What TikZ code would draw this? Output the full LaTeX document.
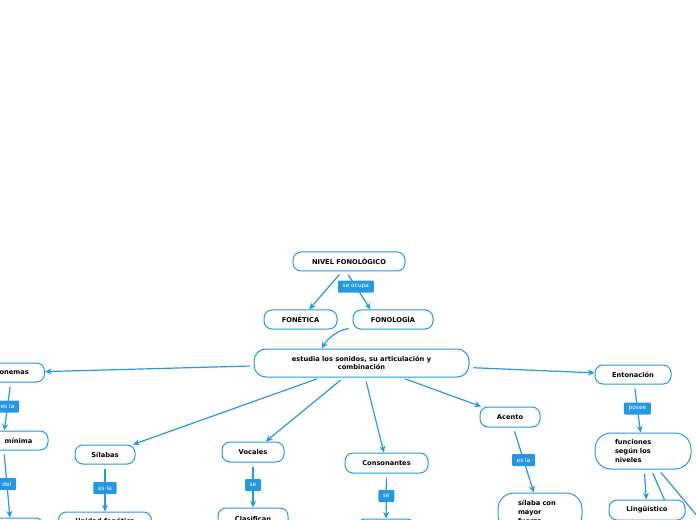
\documentclass[tikz,border=0pt]{standalone}
\usepackage{fontspec}
\setmainfont{DejaVu Sans}
\usetikzlibrary{arrows.meta,backgrounds}
\definecolor{mapblue}{RGB}{38,152,224}
\tikzset{
  concept/.style={draw=mapblue, line width=0.75pt, fill=white, rounded corners=6pt,
    inner sep=0pt, minimum height=14.25pt, align=center,
    font=\fontsize{5}{6.5}\selectfont\bfseries},
  bigconcept/.style={concept, rounded corners=12pt, align=left,
    font=\fontsize{5}{6.75}\selectfont\bfseries},
  linklabel/.style={fill=mapblue, text=white, inner xsep=3.5pt, inner ysep=0pt,
    minimum height=9pt, rounded corners=0.75pt, font=\fontsize{4.4}{5}\selectfont},
  link/.style={draw=mapblue, line width=0.9pt, shorten <=3pt,
    -{Stealth[length=5pt,width=4.5pt]}},
}
\begin{document}
\begin{tikzpicture}[x=0.75pt,y=0.75pt,yscale=-1,xscale=1]
\useasboundingbox (0,0) rectangle (696,520);
\clip (0,0) rectangle (696,520);

% Text Node
\node[concept, minimum width=84pt] (nivel) at (349,261.5) {NIVEL FONOLÓGICO};
\node[concept, minimum width=54.75pt] (fonetica) at (300.5,319.5) {FONÉTICA};
\node[concept, minimum width=60pt] (fonologia) at (393,319.5) {FONOLOGÍA};
\node[concept, minimum width=161.25pt, minimum height=21pt, rounded corners=9pt] (estudia) at (361.5,363) {estudia los sonidos, su articulación y\\combinación};

% Text Node
\node[concept, minimum width=48.75pt] (fonemas) at (12,372.5) {Fonemas};
\node[concept, minimum width=67.5pt] (minima) at (3,440.5) {Unidad\ \ mínima};
\node[concept, minimum width=48pt, minimum height=25.5pt] (minimabase) at (11.5,535) {};

% Text Node
\node[concept, minimum width=45pt] (silabas) at (105,454.5) {Sílabas};
\node[concept, minimum width=69.75pt, minimum height=13.5pt] (unidad) at (105,521) {Unidad fonética};
\node[concept, minimum width=46.5pt, minimum height=15pt] (vocales) at (253,452) {Vocales};
\node[concept, minimum width=52.5pt, minimum height=16.5pt] (clasifican) at (253,519) {Clasifican};
\node[concept, minimum width=62.25pt, minimum height=15pt] (consonantes) at (386.5,463) {Consonantes};
\node[concept, minimum width=43.5pt, minimum height=16.5pt] (consonantesbase) at (386,530) {};

% Text Node
\node[concept, minimum width=45pt, minimum height=15pt] (acento) at (510,417) {Acento};
\node[bigconcept, minimum width=63pt, minimum height=28.5pt, text width=33pt] (silabafuerte) at (540,512) {sílaba con\\mayor\\fuerza};
\node[concept, minimum width=57pt] (entonacion) at (633,374.5) {Entonación};
\node[bigconcept, minimum width=72pt, minimum height=27pt, text width=42pt] (funciones) at (643,451) {funciones\\según los\\niveles};
\node[concept, minimum width=57pt, minimum height=15pt] (linguistico) at (647,510) {Lingüístico};
\coordinate (nivelA) at (691,560);
\coordinate (nivelB) at (734,560);

%Straight Lines
\draw[link] (nivel.235) -- (fonetica);
\draw[link] (nivel.254) -- node[linklabel, pos=0.4] {se ocupa} (fonologia.156);
\draw[link] (fonologia.192) .. controls (338,330) and (328,338) .. (estudia.160);
\draw[link] (estudia) -- (fonemas);
\draw[link] (estudia) -- (silabas);
\draw[link] (estudia) -- (vocales);
\draw[link] (estudia) -- (consonantes);
\draw[link] (estudia) -- (acento);
\draw[link] (estudia) -- (entonacion);

%Straight Lines
\draw[link] (fonemas) -- node[linklabel] {es la} (minima);
\draw[link] (minima) -- node[linklabel] {del} (minimabase);
\draw[link] (silabas) -- node[linklabel] {es la} (unidad);
\draw[link] (vocales) -- node[linklabel] {se} (clasifican);
\draw[link] (consonantes) -- node[linklabel] {se} (consonantesbase);
\draw[link] (acento) -- node[linklabel] {es la} (silabafuerte);
\draw[link] (entonacion) -- node[linklabel] {posee} (funciones);
\draw[link] (funciones) -- (linguistico);
\begin{pgfonlayer}{background}
\draw[link] (funciones) -- (nivelA);
\draw[link] (funciones) -- (nivelB);
\end{pgfonlayer}

\end{tikzpicture}
\end{document}
